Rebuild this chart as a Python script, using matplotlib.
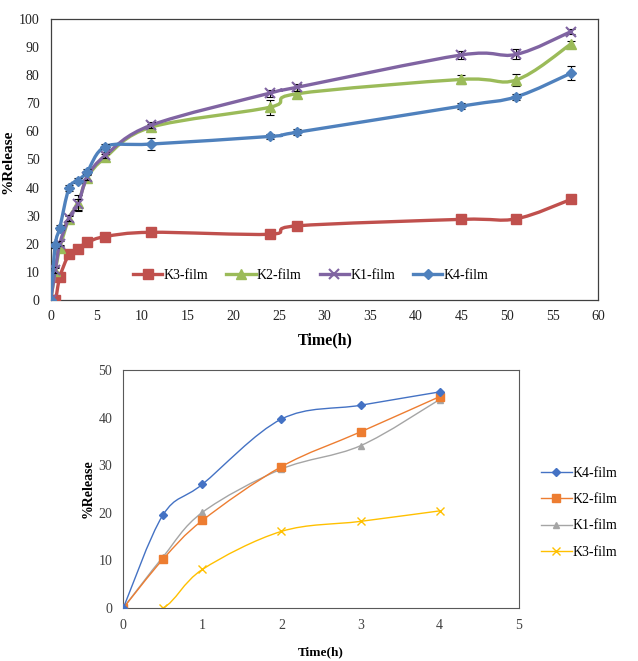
import numpy as np
import matplotlib
matplotlib.use("Agg")
import matplotlib.pyplot as plt
from matplotlib.path import Path
from matplotlib.patches import PathPatch
from matplotlib.lines import Line2D

plt.rcParams["font.family"] = ["Liberation Serif", "DejaVu Serif"]

# --- dati grafico superiore (0-57 h) ---
t_long = [0, 0.5, 1, 2, 3, 4, 6, 11, 24, 27, 45, 51, 57]
k3_long = [0, 0, 8.2, 16.2, 18.3, 20.5, 22.6, 24.1, 23.4, 26.4, 28.7, 28.9, 35.8]
k2_long = [0, 10.3, 18.5, 29.0, 34.5, 43.4, 50.8, 61.5, 68.6, 73.4, 78.5, 78.3, 91.1]
k1_long = [0, 10.7, 20.1, 29.2, 34.1, 43.8, 51.5, 62.2, 73.6, 75.7, 87.2, 87.4, 95.5]
k4_long = [0, 19.6, 25.8, 39.8, 42.5, 45.7, 54.6, 55.5, 58.2, 59.7, 69.0, 72.3, 80.7]
k3_err = [0, 0, 0.5, 0.5, 0.5, 0.5, 0.5, 0.5, 0.5, 0.5, 0.5, 0.5, 0.5]
k2_err = [0, 1, 1, 1, 3, 1, 1, 1, 2.7, 1, 1.5, 2, 1]
k1_err = [0, 1, 1, 1, 2, 1, 1, 1, 1.3, 1.2, 1.5, 1.8, 1]
k4_err = [0, 1, 1, 1, 1, 1, 1, 2, 1, 1, 1, 1, 2.5]

# --- dati grafico inferiore (0-4 h) ---
t_short = [0, 0.5, 1, 2, 3, 4]
k4_short = [0, 19.5, 26.0, 39.7, 42.6, 45.4]
k2_short = [0, 10.2, 18.4, 29.7, 37.0, 44.4]
k1_short = [0, 10.7, 20.1, 29.2, 34.1, 43.8]
k3_short = [0, 0, 8.1, 16.1, 18.2, 20.4]


def smooth(ax, x, y, color, lw, zorder):
    # curva smussata tipo Excel (Catmull-Rom -> Bezier)
    pts = np.column_stack([x, y]).astype(float)
    n = len(pts)
    verts = [pts[0]]
    codes = [Path.MOVETO]
    for i in range(n - 1):
        p0 = pts[max(i - 1, 0)]
        p1 = pts[i]
        p2 = pts[i + 1]
        p3 = pts[min(i + 2, n - 1)]
        verts += [p1 + (p2 - p0) / 6, p2 - (p3 - p1) / 6, p2]
        codes += [Path.CURVE4] * 3
    ax.add_patch(PathPatch(Path(verts, codes), fill=False, edgecolor=color,
                           lw=lw, zorder=zorder, capstyle="round", joinstyle="round"))


fig = plt.figure(figsize=(6.38, 6.61), dpi=100)

# ---------------- grafico superiore ----------------
ax1 = fig.add_axes([0.0795, 0.5461, 0.8583, 0.4252])
top_series = [
    ("K3-film", k3_long, k3_err, "#C0504D", "s", 7, 2),
    ("K2-film", k2_long, k2_err, "#9BBB59", "^", 7, 3),
    ("K1-film", k1_long, k1_err, "#8064A2", "x", 7, 4),
    ("K4-film", k4_long, k4_err, "#4F81BD", "D", 5.5, 5),
]
handles = []
for name, y, err, col, mk, ms, z in top_series:
    smooth(ax1, t_long, y, col, 2.4, z)
    ax1.errorbar(t_long, y, yerr=err, fmt="none", ecolor="black", elinewidth=0.8,
                 capsize=3, capthick=0.8, zorder=z + 0.5)
    ax1.plot(t_long, y, ls="none", marker=mk, ms=ms, color=col, mec=col,
             mew=1.5 if mk == "x" else 1, zorder=z + 0.6)
    handles.append(Line2D([], [], color=col, lw=2.4, marker=mk, ms=ms, mew=1.5 if mk == "x" else 1,
                          label=name))

ax1.set_xlim(0, 60)
ax1.set_ylim(0, 100)
ax1.set_xticks(range(0, 61, 5))
ax1.set_yticks(range(0, 101, 10))
ax1.tick_params(length=0, labelsize=10, colors="#222222")
ax1.tick_params(axis="x", pad=7)
ax1.tick_params(axis="y", pad=8)
for s in ax1.spines.values():
    s.set_color("#404040")
    s.set_linewidth(0.9)
ax1.legend(handles=handles, loc="lower center", bbox_to_anchor=(0.475, 0.02), ncol=4,
           frameon=False, fontsize=10, handlelength=2.1, handletextpad=0.1,
           columnspacing=1.3)
fig.text(325 / 638, 1 - 340 / 661, "Time(h)", ha="center", va="center",
         fontsize=11.5, fontweight="bold")
fig.text(8 / 638, 1 - 162 / 661, "%Release", ha="center", va="center",
         rotation=90, fontsize=11, fontweight="bold")

# ---------------- grafico inferiore ----------------
ax2 = fig.add_axes([0.1933, 0.0802, 0.6197, 0.36])
bottom_series = [
    ("K4-film", k4_short, "#4472C4", "D", 4, 5),
    ("K2-film", k2_short, "#ED7D31", "s", 5.5, 4),
    ("K1-film", k1_short, "#A5A5A5", "^", 5, 3),
    ("K3-film", k3_short, "#FFC000", "x", 6, 2),
]
handles2 = []
for name, y, col, mk, ms, z in bottom_series:
    smooth(ax2, t_short, y, col, 1.0, z)
    ax2.plot(t_short, y, ls="none", marker=mk, ms=ms, color=col, mec=col, mew=1,
             zorder=z + 0.5)
    handles2.append(Line2D([], [], color=col, lw=1.0, marker=mk, ms=ms, mew=1, label=name))

ax2.set_xlim(0, 5)
ax2.set_ylim(0, 50)
ax2.set_xticks(range(0, 6))
ax2.set_yticks(range(0, 51, 10))
ax2.tick_params(length=0, labelsize=10, pad=8, colors="#404040")
for s in ax2.spines.values():
    s.set_color("#595959")
    s.set_linewidth(0.8)
ax2.legend(handles=handles2, loc="center left", bbox_to_anchor=(1.025, 0.40),
           frameon=False, fontsize=10, handlelength=2.2, handletextpad=0.1,
           labelspacing=0.95)
ax2.set_xlabel("Time(h)", fontsize=9.5, fontweight="bold", labelpad=10)
ax2.set_ylabel("%Release", fontsize=10, fontweight="bold", labelpad=3)

fig.savefig("out.png", dpi=100)
